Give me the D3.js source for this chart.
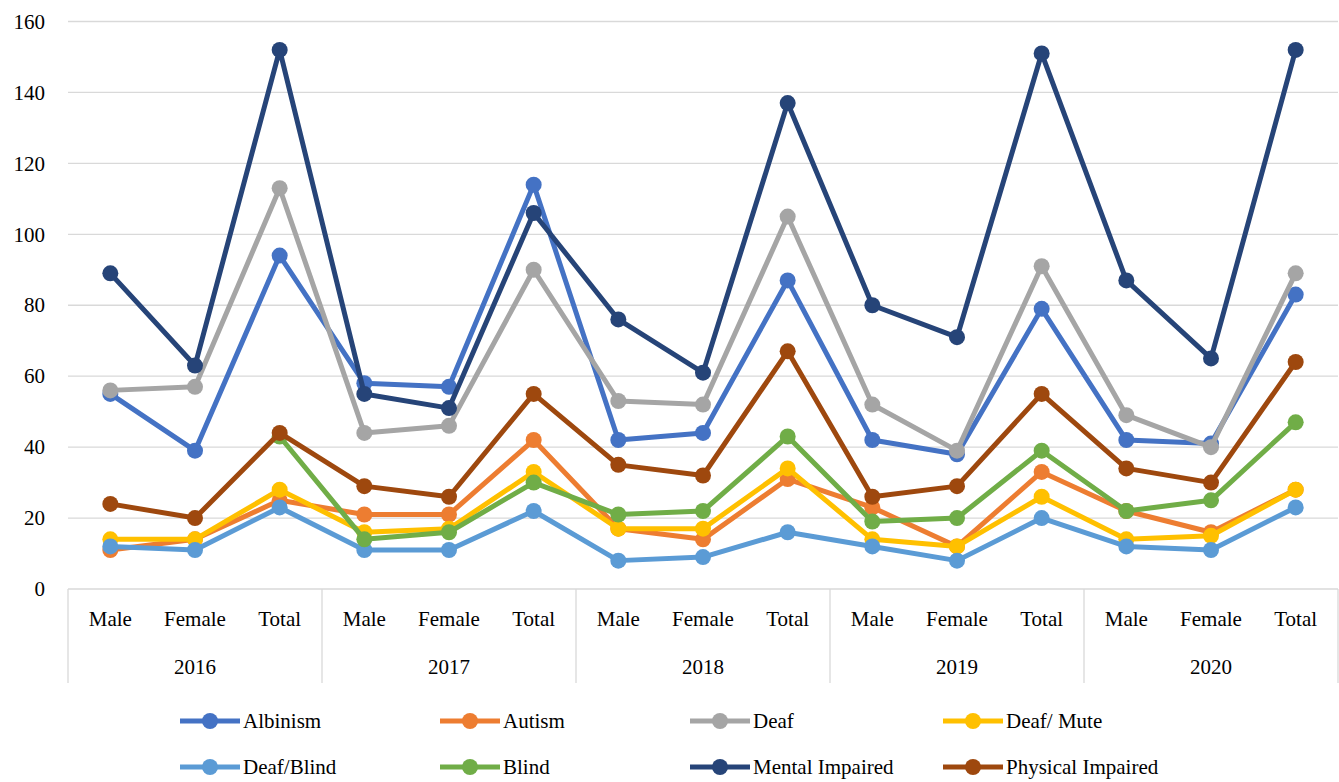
<!DOCTYPE html>
<html>
<head>
<meta charset="utf-8">
<script src="https://cdn.jsdelivr.net/npm/d3@7"></script>
<style>
  html, body { margin: 0; padding: 0; background: #fff; }
  svg text { font-family: "Liberation Serif", "Times New Roman", Times, "DejaVu Serif", "Noto Serif", serif; fill: #000; }
</style>
</head>
<body>
<svg id="chart" width="1339" height="782"></svg>
<script>
// Categories: each year split into Male / Female / Total
const years = ["2016", "2017", "2018", "2019", "2020"];
const groups = ["Male", "Female", "Total"];
const yTicks = [0, 20, 40, 60, 80, 100, 120, 140, 160];

// Series values, 15 points each (year-major order: M, F, T per year)
const albinism        = [55, 39, 94,   58, 57, 114,  42, 44, 87,   42, 38, 79,   42, 41, 83];
const autism          = [11, 14, 25,   21, 21, 42,   17, 14, 31,   23, 12, 33,   22, 16, 28];
const deaf            = [56, 57, 113,  44, 46, 90,   53, 52, 105,  52, 39, 91,   49, 40, 89];
const deafMute        = [14, 14, 28,   16, 17, 33,   17, 17, 34,   14, 12, 26,   14, 15, 28];
const deafBlind       = [12, 11, 23,   11, 11, 22,   8, 9, 16,     12, 8, 20,    12, 11, 23];
const blind           = [null, null, 43, 14, 16, 30, 21, 22, 43,   19, 20, 39,   22, 25, 47];
const mentalImpaired  = [89, 63, 152,  55, 51, 106,  76, 61, 137,  80, 71, 151,  87, 65, 152];
const physicalImpaired= [24, 20, 44,   29, 26, 55,   35, 32, 67,   26, 29, 55,   34, 30, 64];

const seriesNames  = ["Albinism", "Autism", "Deaf", "Deaf/ Mute", "Deaf/Blind", "Blind", "Mental Impaired", "Physical Impaired"];
const seriesValues = [albinism, autism, deaf, deafMute, deafBlind, blind, mentalImpaired, physicalImpaired];
const seriesColors = ["#4472C4", "#ED7D31", "#A5A5A5", "#FFC000", "#5B9BD5", "#70AD47", "#264478", "#9E480E"];

const FONT = '"Liberation Serif", "Times New Roman", Times, "DejaVu Serif", "Noto Serif", serif';

const svg = d3.select("#chart").attr("font-family", FONT);

// Plot area
const plotLeft = 68, plotRight = 1338, plotTop = 21.5, plotBottom = 589;

const cats = [];
years.forEach(yr => groups.forEach(g => cats.push({ key: yr + "-" + g, year: yr, group: g })));

const x = d3.scaleBand().domain(cats.map(c => c.key)).range([plotLeft, plotRight]).padding(0);
const cx = k => x(k) + x.bandwidth() / 2;
const y = d3.scaleLinear().domain([0, 160]).range([plotBottom, plotTop]);

// Horizontal gridlines
svg.append("g")
  .selectAll("line")
  .data(yTicks.filter(t => t > 0))
  .join("line")
  .attr("x1", plotLeft).attr("x2", plotRight)
  .attr("y1", d => y(d)).attr("y2", d => y(d))
  .attr("stroke", "#d9d9d9").attr("stroke-width", 1.3);

// Value axis labels
const yAxis = d3.axisLeft(y).tickValues(yTicks).tickSize(0).tickPadding(0);
const yg = svg.append("g").attr("transform", `translate(${plotLeft - 23},0)`).call(yAxis);
yg.attr("font-family", FONT);
yg.select(".domain").remove();
yg.selectAll("text")
  .attr("font-size", 21)
  .attr("font-family", FONT)
  .attr("dy", "0.32em");

// Multi-level category axis
const axisBottom = 683;
const ax = svg.append("g");
ax.append("line")
  .attr("x1", plotLeft).attr("x2", plotRight)
  .attr("y1", plotBottom).attr("y2", plotBottom)
  .attr("stroke", "#d9d9d9").attr("stroke-width", 1.3);

const yearBand = d3.scaleBand().domain(years).range([plotLeft, plotRight]).padding(0);
const seps = years.map(yr => yearBand(yr)).concat([plotRight]);
ax.selectAll("line.sep")
  .data(seps)
  .join("line")
  .attr("class", "sep")
  .attr("x1", d => d).attr("x2", d => d)
  .attr("y1", plotBottom).attr("y2", axisBottom)
  .attr("stroke", "#d9d9d9").attr("stroke-width", 1.3);

ax.selectAll("text.cat")
  .data(cats)
  .join("text")
  .attr("class", "cat")
  .attr("x", d => cx(d.key))
  .attr("y", 626)
  .attr("text-anchor", "middle")
  .attr("font-size", 21)
  .text(d => d.group);

ax.selectAll("text.year")
  .data(years)
  .join("text")
  .attr("class", "year")
  .attr("x", d => yearBand(d) + yearBand.bandwidth() / 2)
  .attr("y", 674)
  .attr("text-anchor", "middle")
  .attr("font-size", 21)
  .text(d => d);

// Lines and markers, drawn in series order
const line = d3.line()
  .defined(d => d.v !== null)
  .x(d => cx(d.key))
  .y(d => y(d.v));

seriesValues.forEach((vals, i) => {
  const pts = cats.map((c, j) => ({ key: c.key, v: vals[j] }));
  const g = svg.append("g");
  g.append("path")
    .datum(pts)
    .attr("d", line)
    .attr("fill", "none")
    .attr("stroke", seriesColors[i])
    .attr("stroke-width", 5)
    .attr("stroke-linejoin", "round");
  g.selectAll("circle")
    .data(pts.filter(p => p.v !== null))
    .join("circle")
    .attr("cx", d => cx(d.key))
    .attr("cy", d => y(d.v))
    .attr("r", 8)
    .attr("fill", seriesColors[i]);
});

// Legend: 4 columns x 2 rows
const legendX = [180, 440, 690, 943];
const legendY = [721, 767];
const leg = svg.append("g");
seriesNames.forEach((name, i) => {
  const lx = legendX[i % 4], ly = legendY[Math.floor(i / 4)];
  const item = leg.append("g").attr("transform", `translate(${lx},${ly})`);
  item.append("line")
    .attr("x1", 0).attr("x2", 60)
    .attr("y1", 0).attr("y2", 0)
    .attr("stroke", seriesColors[i]).attr("stroke-width", 5);
  item.append("circle")
    .attr("cx", 30).attr("cy", 0).attr("r", 8)
    .attr("fill", seriesColors[i]);
  item.append("text")
    .attr("x", 63).attr("y", 0)
    .attr("dy", "0.32em")
    .attr("font-size", 21)
    .text(name);
});
</script>
</body>
</html>
